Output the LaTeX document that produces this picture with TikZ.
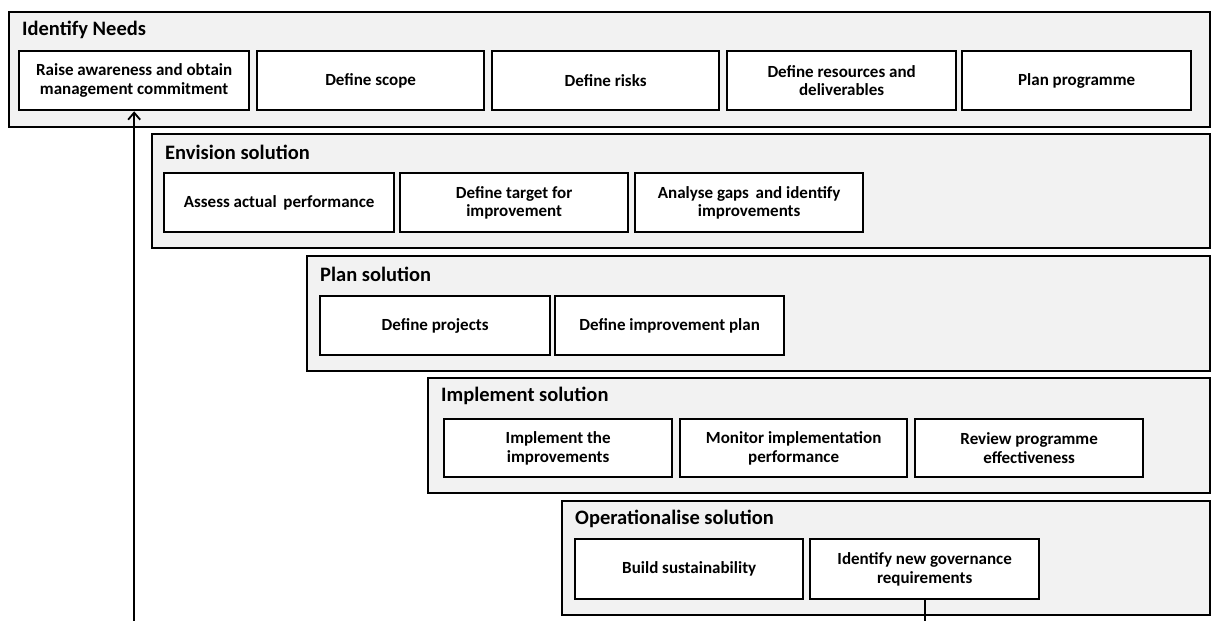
\documentclass[tikz,border=0pt]{standalone}
\usepackage{fontspec}
\setmainfont{Carlito}
\usetikzlibrary{arrows.meta}

\tikzset{
  panel/.style={draw=black, line width=2.3pt, fill=panelgray, inner sep=0pt, anchor=north west},
  phasetitle/.style={anchor=west, inner sep=0pt, font=\fontsize{20.5}{24}\selectfont\bfseries},
  task/.style={draw=black, line width=2.3pt, fill=white, inner sep=0pt, anchor=north west,
    align=center, font=\fontsize{17}{18.5}\selectfont\bfseries},
  link/.style={draw=black, line width=2pt},
  uparrow/.style={link, -{Straight Barb[length=7pt,width=12pt,line width=1.8pt]}}
}
\definecolor{panelgray}{HTML}{F2F2F2}

% \phase{name}{left}{top}{bottom}{title}
\newcommand{\phase}[5]{%
  \node[panel, minimum width={(1209-#2)*1pt}, minimum height={(#4-#3)*1pt}] (#1) at (#2,#3) {};
  \node[phasetitle] (#1-title) at ({#2+14},{#3+19}) {#5};
}
% \taskbox{name}{left}{top}{right}{bottom}{text}
\newcommand{\taskbox}[6]{%
  \node[task, minimum width={(#4-#2)*1pt}, minimum height={(#5-#3)*1pt}] (#1) at (#2,#3) {#6};
}

\begin{document}
\begin{tikzpicture}[x=1pt, y=-1pt]
\useasboundingbox (0,0) rectangle (1211,621);

% Identify needs
\phase{needs}{8}{11}{126}{Identify Needs}
\taskbox{raise}{18}{50}{248}{109}{Raise awareness and obtain\\management commitment}
\taskbox{scope}{256}{50}{483}{109}{Define scope}
\taskbox{risks}{491}{50}{718}{109}{Define risks}
\taskbox{resources}{726}{50}{955}{109}{Define resources and\\deliverables}
\taskbox{programme}{961}{50}{1190}{109}{Plan programme}

% Envision solution
\phase{envision}{151}{133}{247}{Envision solution}
\taskbox{assess}{163}{172}{393}{231}{Assess actual\, performance}
\taskbox{target}{399}{172}{627}{231}{Define target for\\improvement}
\taskbox{gaps}{634}{172}{862}{231}{Analyse gaps\, and identify\\improvements}

% Plan solution
\phase{plan}{306}{255}{370}{Plan solution}
\taskbox{projects}{319}{295}{549}{354}{Define projects}
\taskbox{impplan}{554}{295}{783}{354}{Define improvement plan}

% Implement solution
\phase{implement}{427}{377}{492}{Implement solution}
\taskbox{improve}{443}{418}{671}{476}{Implement the\\improvements}
\taskbox{monitor}{679}{418}{906}{476}{Monitor implementation\\performance}
\taskbox{review}{914}{418}{1142}{476}{Review programme\\effectiveness}

% Operationalise solution
\phase{operate}{561}{500}{614}{Operationalise solution}
\taskbox{sustain}{574}{538}{802}{598}{Build sustainability}
\taskbox{governance}{809}{538}{1038}{598}{Identify new governance\\requirements}

% Feedback loop running below the picture edge
\coordinate (loopout) at (governance.south |- 0,621);
\coordinate (loopin) at (raise.south |- 0,621);
\draw[link] (governance.south) -- (loopout);
\draw[uparrow] (loopin) -- (raise.south);
\end{tikzpicture}
\end{document}
